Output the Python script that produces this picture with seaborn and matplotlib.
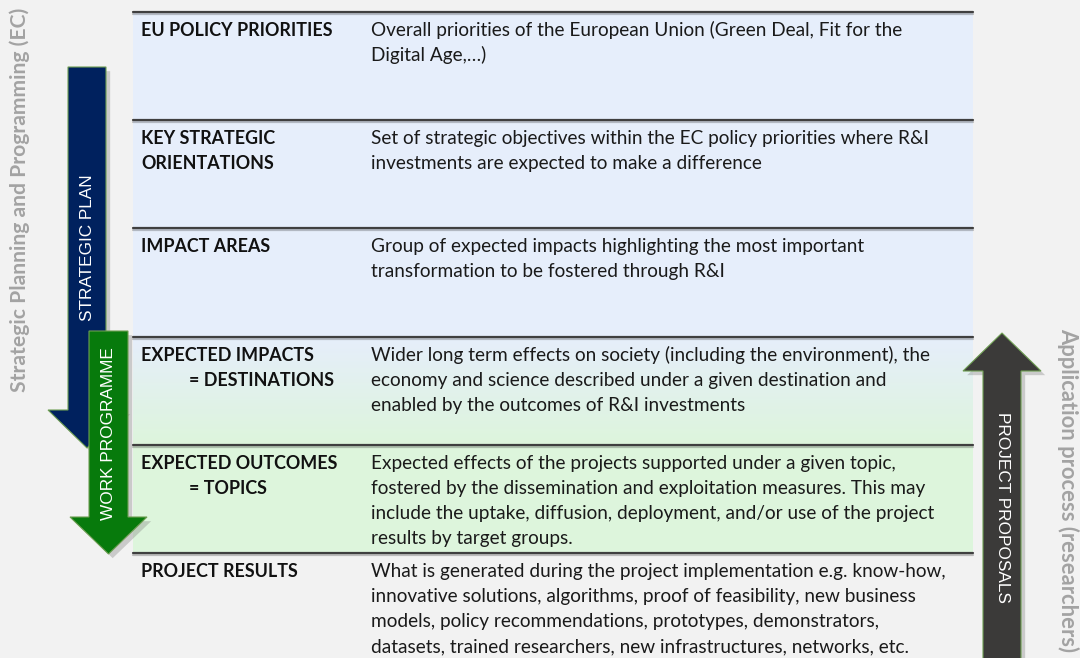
import matplotlib.pyplot as plt
import matplotlib.patches as mpatches
import matplotlib.patheffects as pe
import numpy as np
import seaborn as sns

# table content
row_titles = [
    ["EU POLICY PRIORITIES"],
    ["KEY STRATEGIC", "ORIENTATIONS"],
    ["IMPACT AREAS"],
    ["EXPECTED IMPACTS", "= DESTINATIONS"],
    ["EXPECTED OUTCOMES", "= TOPICS"],
    ["PROJECT RESULTS"],
]
row_texts = [
    ["Overall priorities of the European Union (Green Deal, Fit for the",
     "Digital Age,…)"],
    ["Set of strategic objectives within the EC policy priorities where R&I",
     "investments are expected to make a difference"],
    ["Group of expected impacts highlighting the most important",
     "transformation to be fostered through R&I"],
    ["Wider long term effects on society (including the environment), the",
     "economy and science described under a given destination and",
     "enabled by the outcomes of R&I investments"],
    ["Expected effects of the projects supported under a given topic,",
     "fostered by the dissemination and exploitation measures. This may",
     "include the uptake, diffusion, deployment, and/or use of the project",
     "results by target groups."],
    ["What is generated during the project implementation e.g. know-how,",
     "innovative solutions, algorithms, proof of feasibility, new business",
     "models, policy recommendations, prototypes, demonstrators,",
     "datasets, trained researchers, new infrastructures, networks, etc."],
]
row_fills = ["blue", "blue", "blue", "gradient", "green", None]
arrow_labels = ["STRATEGIC PLAN", "WORK PROGRAMME", "PROJECT PROPOSALS"]
side_labels = ["Strategic Planning and Programming (EC)",
               "Application process (researchers)"]

BLUE = "#e6eefb"
GREEN = "#ddf5dc"
BG = "#f2f2f2"

sns.set_theme(style="white")
plt.rcParams["font.family"] = ["Lato", "DejaVu Sans"]

fig = plt.figure(figsize=(10.8, 6.58), dpi=100, facecolor=BG)
ax = fig.add_axes([0, 0, 1, 1])
ax.set_xlim(0, 1080)
ax.set_ylim(658, 0)
ax.axis("off")
ax.set_facecolor(BG)

# layout
x0, x1 = 133, 973
row_tops = [12, 120, 228, 337, 445, 553, 658]
title_x, indent_x, desc_x = 141, 189, 371
line_h = 25
fs_title, fs_desc = 12.9, 13.7

for i, fill in enumerate(row_fills):
    top, bot = row_tops[i], row_tops[i + 1]
    if fill == "blue":
        ax.add_patch(mpatches.Rectangle((x0, top), x1 - x0, bot - top,
                                        facecolor=BLUE, edgecolor="none", zorder=1))
    elif fill == "green":
        ax.add_patch(mpatches.Rectangle((x0, top), x1 - x0, bot - top,
                                        facecolor=GREEN, edgecolor="none", zorder=1))
    elif fill == "gradient":
        c1 = np.array(plt.matplotlib.colors.to_rgb(BLUE))
        c2 = np.array(plt.matplotlib.colors.to_rgb(GREEN))
        t = np.linspace(0, 1, 100)[:, None, None]
        grad = c1 * (1 - t) + c2 * t
        ax.imshow(grad, extent=(x0, x1, bot, top), aspect="auto", zorder=1)

    for j, line in enumerate(row_titles[i]):
        tx = indent_x if line.startswith("=") else title_x
        ax.text(tx, top + 24 + j * line_h, line, fontsize=fs_title, fontweight="bold",
                color="#111111", va="baseline", ha="left", zorder=5)
    for j, line in enumerate(row_texts[i]):
        ax.text(desc_x, top + 24 + j * line_h, line, fontsize=fs_desc,
                color="#1a1a1a", va="baseline", ha="left", zorder=5)

for y in row_tops[:-1]:
    ax.plot([x0, x1], [y, y], color="#3f3f3f", lw=1.6, zorder=4,
            path_effects=[pe.SimpleLineShadow(offset=(0, -1.5), alpha=0.25), pe.Normal()])

ax.set_xlim(0, 1080)
ax.set_ylim(658, 0)

shadow = [pe.SimplePatchShadow(offset=(3, -3), alpha=0.35, shadow_rgbFace="#808080"), pe.Normal()]
arrow_font = dict(color="white", fontsize=12.4, family=["Liberation Sans", "DejaVu Sans"],
                  ha="center", va="center", zorder=8)


def down_arrow(cx, half_shaft, top, head_y, half_head, tip_y, color, z):
    pts = [(cx - half_shaft, top), (cx + half_shaft, top), (cx + half_shaft, head_y),
           (cx + half_head, head_y), (cx, tip_y), (cx - half_head, head_y),
           (cx - half_shaft, head_y)]
    p = mpatches.Polygon(pts, closed=True, facecolor=color, edgecolor="#6e9e52",
                         lw=0.8, zorder=z, path_effects=shadow)
    ax.add_patch(p)


# strategic plan (navy) and work programme (green)
down_arrow(87, 19, 67, 410, 39, 448, "#00215e", 6)
ax.text(87, 248, arrow_labels[0], rotation=90, **arrow_font)
down_arrow(108.5, 19.5, 331, 517, 38.5, 554, "#077a0c", 7)
ax.text(108.5, 434, arrow_labels[1], rotation=90, **arrow_font)

# project proposals (up arrow)
cx = 1002
pts = [(cx - 19, 660), (cx - 19, 371), (cx - 39, 371), (cx, 333), (cx + 39, 371),
       (cx + 19, 371), (cx + 19, 660)]
ax.add_patch(mpatches.Polygon(pts, closed=True, facecolor="#3b3a39", edgecolor="#6e9e52",
                              lw=0.8, zorder=6, path_effects=shadow))
ax.text(cx, 507, arrow_labels[2], rotation=-90, **arrow_font)

# side captions
ax.text(20, 200, side_labels[0], rotation=90, color="#a3a3a3", fontsize=15.2,
        fontweight="bold", ha="center", va="center")
ax.text(1068, 490, side_labels[1], rotation=-90, color="#a3a3a3", fontsize=15.8,
        fontweight="bold", ha="center", va="center")

fig.savefig("out.png", dpi=100, facecolor=BG)
